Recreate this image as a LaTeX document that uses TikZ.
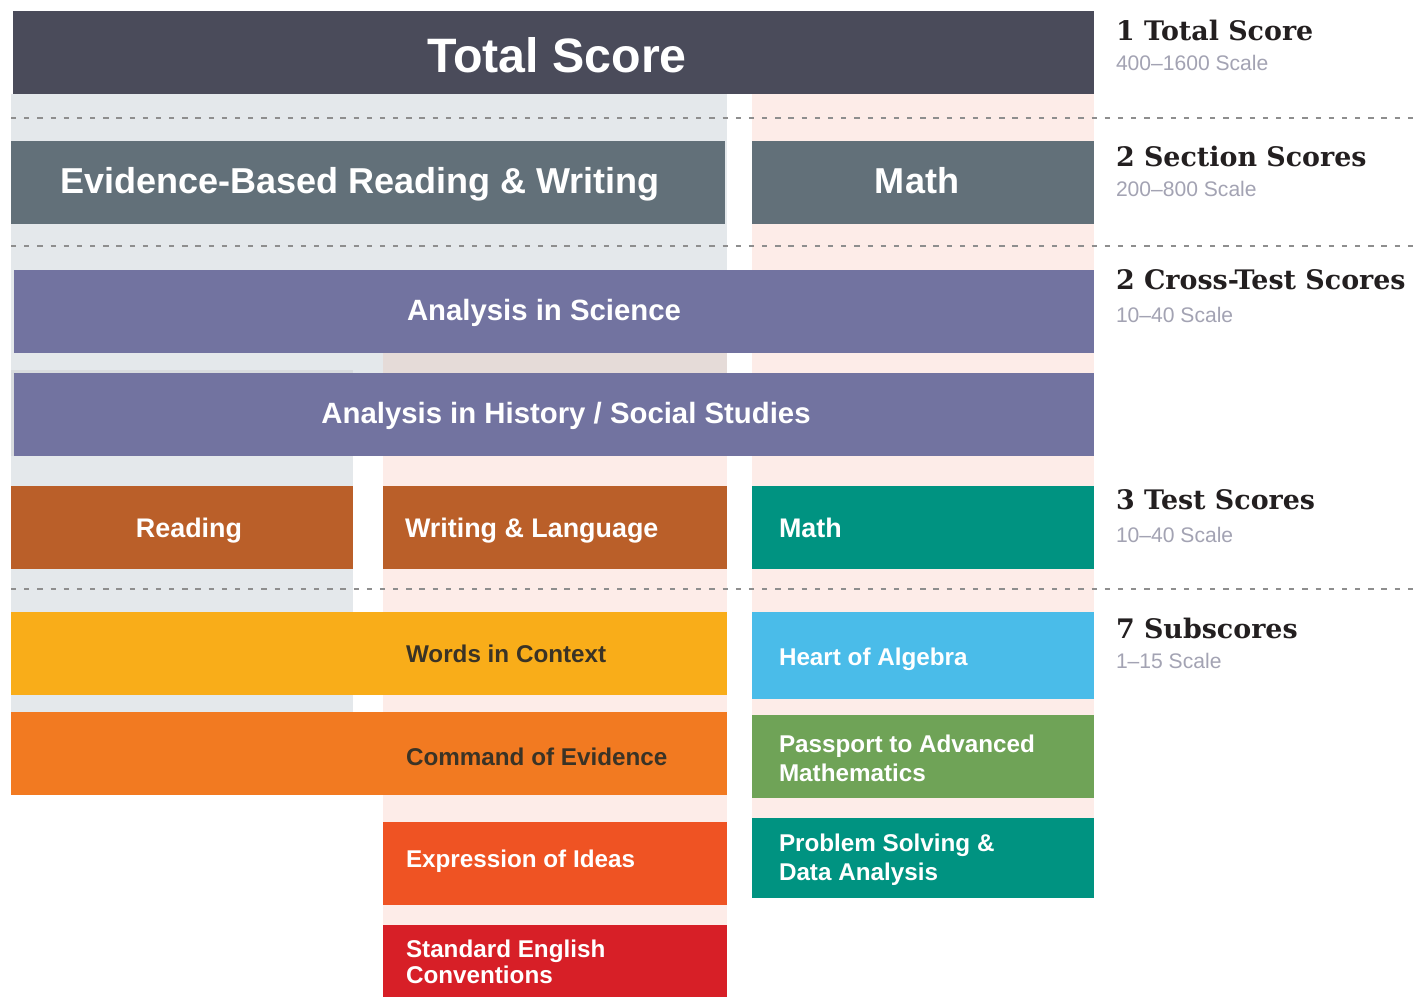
\documentclass[tikz,border=0pt]{standalone}
\usepackage{fontspec}
\setmainfont{Liberation Sans}
\newfontfamily\labelfont{DejaVu Serif}
\definecolor{totalc}{HTML}{4A4B5A}
\definecolor{sectc}{HTML}{627079}
\definecolor{crossc}{HTML}{7273A0}
\definecolor{testc}{HTML}{BA5F29}
\definecolor{mathc}{HTML}{009381}
\definecolor{wicc}{HTML}{F9AD19}
\definecolor{coec}{HTML}{F27A21}
\definecolor{eoic}{HTML}{EF5323}
\definecolor{secc}{HTML}{D71F27}
\definecolor{hoac}{HTML}{4ABCE9}
\definecolor{pamc}{HTML}{6FA357}
\definecolor{greybg}{HTML}{E4E8EB}
\definecolor{greydk}{HTML}{D8DBDE}
\definecolor{pinkbg}{HTML}{FDECE8}
\definecolor{mixbg}{HTML}{E5DBD8}
\definecolor{dashc}{HTML}{8E8E8E}
\definecolor{scalec}{HTML}{A3A3B3}
\definecolor{darktxt}{HTML}{3A3326}
\definecolor{lblc}{HTML}{231F20}
\begin{document}
\begin{tikzpicture}[x=0.02cm,y=-0.02cm,
  every node/.style={inner sep=0pt,outer sep=0pt},
  tsc/.style={font=\fontsize{27.5}{33}\selectfont\bfseries,text=white,anchor=base},
  ssc/.style={font=\fontsize{20.5}{25}\selectfont\bfseries,text=white,anchor=base},
  csc/.style={font=\fontsize{16.7}{20}\selectfont\bfseries,text=white,anchor=base},
  tst/.style={font=\fontsize{15.3}{18}\selectfont\bfseries,text=white,anchor=base},
  tstl/.style={tst,anchor=base west},
  subs/.style={font=\fontsize{13.8}{16}\selectfont\bfseries,text=white,anchor=base west},
  subd/.style={subs,text=darktxt},
  lbl/.style={font=\labelfont\bfseries\fontsize{15.3}{18}\selectfont,text=lblc,anchor=base west},
  scl/.style={font=\fontsize{12}{14}\selectfont,text=scalec,anchor=base west},
  dashln/.style={draw=dashc,line width=1.6pt,dash pattern=on 3pt off 4.5pt}
]
\useasboundingbox (0,0) rectangle (1419,997);
\fill[white] (0,0) rectangle (1419,997);
% background columns
\fill[greybg] (11,94) rectangle (727,373);
\fill[greybg] (11,370) rectangle (353,712);
\fill[greydk] (11,370) rectangle (353,456);
\fill[pinkbg] (383,353) rectangle (727,997);
\fill[mixbg] (383,353) rectangle (727,373);
\fill[pinkbg] (752,94) rectangle (1094,898);
% dashed separators
\draw[dashln] (11,118) -- (1419,118);
\draw[dashln] (11,246) -- (1419,246);
\draw[dashln] (11,589) -- (1419,589);
% boxes
\fill[totalc] (13,11) rectangle (1094,94);
\fill[sectc] (11,141) rectangle (725,224);
\fill[sectc] (752,141) rectangle (1094,224);
\fill[crossc] (14,270) rectangle (1094,353);
\fill[crossc] (14,373) rectangle (1094,456);
\fill[testc] (11,486) rectangle (353,569);
\fill[testc] (383,486) rectangle (727,569);
\fill[mathc] (752,486) rectangle (1094,569);
\fill[wicc] (11,612) rectangle (727,695);
\fill[coec] (11,712) rectangle (727,795);
\fill[eoic] (383,822) rectangle (727,905);
\fill[secc] (383,925) rectangle (727,997);
\fill[hoac] (752,612) rectangle (1094,699);
\fill[pamc] (752,715) rectangle (1094,798);
\fill[mathc] (752,818) rectangle (1094,898);
% box texts
\node[tsc] (total) at (557,72) {Total Score};
\node[ssc] (ebrw) at (360,193) {Evidence-Based Reading \& Writing};
\node[ssc] (smath) at (917,193) {Math};
\node[csc] (sci) at (544,320) {Analysis in Science};
\node[csc] (hist) at (566,423) {Analysis in History / Social Studies};
\node[tst] (read) at (189,537) {Reading};
\node[tstl] (wl) at (405,537) {Writing \& Language};
\node[tstl] (tmath) at (779,537) {Math};
\node[subd] (wic) at (406,662) {Words in Context};
\node[subd] (coe) at (406,765) {Command of Evidence};
\node[subs] (eoi) at (406,867) {Expression of Ideas};
\node[subs] (sec1) at (406,957) {Standard English};
\node[subs] (sec2) at (406,983) {Conventions};
\node[subs] (hoa) at (779,665) {Heart of Algebra};
\node[subs] (pam1) at (779,752) {Passport to Advanced};
\node[subs] (pam2) at (779,781) {Mathematics};
\node[subs] (psd1) at (779,851) {Problem Solving \&};
\node[subs] (psd2) at (779,880) {Data Analysis};
% right labels
\node[lbl] (l1) at (1116,41) {1 Total Score};
\node[scl] (s1) at (1116,71) {400–1600 Scale};
\node[lbl] (l2) at (1116,166) {2 Section Scores};
\node[scl] (s2) at (1116,196) {200–800 Scale};
\node[lbl] (l3) at (1116,289) {2 Cross-Test Scores};
\node[scl] (s3) at (1116,322) {10–40 Scale};
\node[lbl] (l4) at (1116,509) {3 Test Scores};
\node[scl] (s4) at (1116,542) {10–40 Scale};
\node[lbl] (l5) at (1116,638) {7 Subscores};
\node[scl] (s5) at (1116,668) {1–15 Scale};
\end{tikzpicture}
\end{document}
